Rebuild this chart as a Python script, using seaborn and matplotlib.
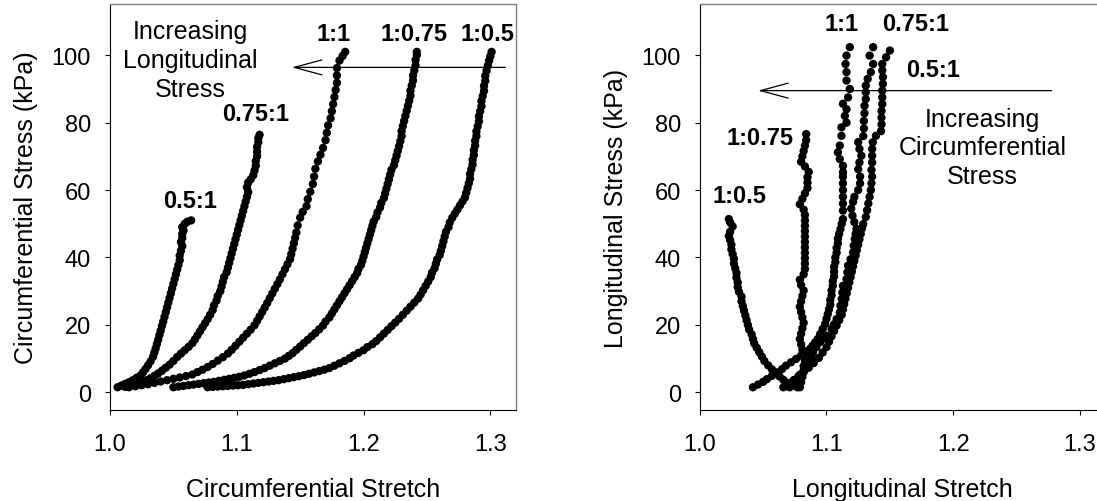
import matplotlib
matplotlib.use("Agg")
import matplotlib.pyplot as plt
import pandas as pd
import seaborn as sns

# ---------------- data: (stretch, stress kPa) ----------------
# Left panel: circumferential stretch vs circumferential stress
circ_0p5_1 = [(1.006,1.5),(1.009,2.0),(1.012,2.5),(1.015,3.0),(1.018,3.6),(1.021,4.3),(1.024,5.0),(1.026,5.9),
              (1.028,6.9),(1.030,8.0),(1.032,9.2),(1.034,10.6),(1.035,11.8),(1.036,13.0),(1.037,14.3),(1.038,15.6),
              (1.039,17.0),(1.040,18.3),(1.041,19.7),(1.042,21.0),(1.043,22.4),(1.044,23.8),(1.045,25.2),(1.046,26.6),
              (1.047,28.0),(1.048,29.4),(1.049,30.8),(1.050,32.2),(1.051,33.6),(1.052,35.0),(1.053,36.4),(1.054,37.8),
              (1.055,39.2),(1.055,40.6),(1.056,42.0),(1.057,43.4),(1.056,44.6),(1.057,45.8),(1.057,47.0),(1.058,48.0),
              (1.057,49.0),(1.059,50.0),(1.061,50.6),(1.064,51.0)]
circ_0p75_1 = [(1.012,1.6),(1.016,1.9),(1.020,2.2),(1.023,2.7),(1.026,3.1),(1.029,3.6),(1.032,4.2),(1.035,4.9),
               (1.038,5.6),(1.041,6.4),(1.044,7.3),(1.047,8.2),(1.050,9.3),(1.053,10.5),(1.056,11.5),(1.059,12.5),
               (1.062,13.5),(1.065,14.6),(1.067,15.7),(1.069,16.9),(1.071,18.1),(1.073,19.3),(1.075,20.5),(1.077,21.7),
               (1.079,23.0),(1.081,24.4),(1.082,25.8),(1.084,27.2),(1.085,28.6),(1.087,30.0),(1.088,31.4),(1.089,32.8),
               (1.090,34.2),(1.092,35.6),(1.093,37.0),(1.094,38.4),(1.095,39.8),(1.096,41.2),(1.097,42.6),(1.098,44.0),
               (1.099,45.4),(1.100,46.8),(1.101,48.2),(1.102,49.6),(1.103,51.0),(1.104,52.4),(1.105,53.8),(1.106,55.2),
               (1.107,56.6),(1.108,58.0),(1.109,59.4),(1.108,60.8),(1.109,62.2),(1.111,63.2),(1.113,64.4),(1.114,65.8),
               (1.115,67.2),(1.115,68.6),(1.116,70.0),(1.116,71.4),(1.116,72.8),(1.117,74.2),(1.117,75.4),(1.118,76.4)]
circ_1_1 = [(1.015,1.5),(1.020,1.8),(1.025,2.1),(1.030,2.4),(1.035,2.8),(1.040,3.2),(1.045,3.6),(1.050,4.0),
            (1.055,4.4),(1.060,4.8),(1.065,5.3),(1.069,6.0),(1.073,6.7),(1.077,7.5),(1.081,8.4),(1.085,9.4),
            (1.089,10.4),(1.093,11.5),(1.096,12.6),(1.099,13.8),(1.102,15.0),(1.105,16.2),(1.108,17.4),(1.111,18.6),
            (1.114,19.9),(1.116,21.2),(1.118,22.5),(1.120,23.8),(1.122,25.1),(1.124,26.5),(1.126,27.9),(1.128,29.3),
            (1.130,30.7),(1.132,32.1),(1.134,33.5),(1.136,35.0),(1.138,36.5),(1.140,38.0),(1.142,39.5),(1.143,41.0),
            (1.144,42.6),(1.145,44.2),(1.146,45.8),(1.147,47.4),(1.148,49.5),(1.150,51.8),(1.152,53.5),(1.155,55.2),
            (1.156,57.3),(1.158,59.5),(1.160,61.8),(1.161,64.0),(1.162,66.3),(1.164,68.5),(1.166,70.5),(1.168,72.5),
            (1.170,74.8),(1.171,77.0),(1.172,79.2),(1.174,81.3),(1.175,83.4),(1.176,85.5),(1.177,87.6),(1.178,89.7),
            (1.179,91.8),(1.179,94.0),(1.179,96.2),(1.181,98.4),(1.1835,99.8),(1.1855,101.0)]
circ_1_0p75 = [(1.050,1.5),(1.054,1.7),(1.058,1.9),(1.062,2.1),(1.066,2.3),(1.070,2.5),(1.074,2.7),(1.078,2.9),
               (1.082,3.1),(1.086,3.4),(1.090,3.7),(1.094,4.0),(1.098,4.3),(1.102,4.6),(1.106,5.0),(1.110,5.5),
               (1.114,6.0),(1.118,6.6),(1.122,7.2),(1.126,7.9),(1.130,8.6),(1.134,9.3),(1.138,10.0),(1.141,10.8),
               (1.144,11.6),(1.147,12.6),(1.150,13.6),(1.153,14.6),(1.156,15.6),(1.159,16.6),(1.162,17.6),(1.165,18.7),
               (1.168,19.8),(1.170,21.0),(1.173,22.2),(1.175,23.4),(1.177,24.6),(1.179,25.8),(1.181,27.0),(1.183,28.2),
               (1.185,29.4),(1.187,30.6),(1.189,31.8),(1.191,33.0),(1.193,34.2),(1.195,35.4),(1.196,36.6),(1.198,37.8),
               (1.199,39.0),(1.200,40.3),(1.201,41.6),(1.202,42.9),(1.203,44.2),(1.204,45.5),(1.205,46.8),(1.206,48.1),
               (1.207,49.4),(1.208,50.7),(1.210,52.0),(1.211,53.4),(1.213,54.8),(1.214,56.2),(1.216,57.6),(1.217,59.0),
               (1.218,60.4),(1.219,61.8),(1.220,63.2),(1.221,64.6),(1.222,66.0),(1.224,67.4),(1.225,68.8),(1.226,70.2),
               (1.227,71.6),(1.228,73.0),(1.229,74.5),(1.230,76.0),(1.230,77.5),(1.231,79.0),(1.232,80.5),(1.233,82.0),
               (1.234,83.5),(1.235,85.0),(1.236,86.5),(1.237,88.0),(1.237,89.5),(1.238,91.0),(1.239,92.5),(1.239,94.0),
               (1.240,95.5),(1.241,97.0),(1.241,98.6),(1.242,100.0),(1.242,101.0)]
circ_1_0p5 = [(1.077,1.5),(1.081,1.6),(1.085,1.7),(1.089,1.8),(1.093,1.9),(1.097,2.0),(1.101,2.1),(1.105,2.2),
              (1.109,2.4),(1.113,2.6),(1.117,2.8),(1.121,3.0),(1.125,3.2),(1.129,3.4),(1.133,3.6),(1.137,3.9),
              (1.141,4.2),(1.145,4.5),(1.149,4.8),(1.153,5.1),(1.157,5.5),(1.161,5.9),(1.165,6.3),(1.169,6.7),
              (1.173,7.2),(1.177,7.9),(1.181,8.6),(1.185,9.3),(1.189,10.1),(1.192,10.9),(1.196,11.7),(1.200,12.5),
              (1.203,13.4),(1.207,14.3),(1.210,15.2),(1.213,16.3),(1.216,17.4),(1.219,18.5),(1.222,19.6),(1.225,20.7),
              (1.228,21.8),(1.231,23.0),(1.234,24.2),(1.237,25.4),(1.240,26.6),(1.243,27.8),(1.245,29.0),(1.247,30.3),
              (1.249,31.6),(1.251,32.9),(1.253,34.2),(1.254,35.5),(1.256,36.8),(1.257,38.1),(1.258,39.4),(1.260,40.7),
              (1.261,42.0),(1.262,43.4),(1.263,44.8),(1.264,46.2),(1.265,47.6),(1.267,49.0),(1.268,50.4),(1.270,51.8),
              (1.272,53.0),(1.274,54.2),(1.276,55.4),(1.278,56.6),(1.280,57.8),(1.281,59.2),(1.282,60.6),(1.283,62.0),
              (1.284,63.4),(1.284,64.8),(1.285,66.2),(1.286,67.6),(1.286,69.0),(1.287,70.4),(1.287,71.8),(1.288,73.2),
              (1.288,74.6),(1.289,76.0),(1.289,77.4),(1.290,78.9),(1.291,80.4),(1.291,81.9),(1.292,83.4),(1.293,84.9),
              (1.293,86.4),(1.294,87.9),(1.295,89.4),(1.295,90.9),(1.296,92.4),(1.296,93.9),(1.297,95.4),(1.298,96.9),
              (1.299,98.4),(1.300,99.7),(1.301,101.0)]

# Right panel: longitudinal stretch vs longitudinal stress
long_1_0p5 = [(1.077,1.5),(1.073,2.0),(1.069,2.8),(1.066,3.7),(1.063,4.7),(1.060,5.7),(1.057,6.8),(1.054,8.0),
              (1.051,9.3),(1.049,10.6),(1.047,11.9),(1.045,13.2),(1.043,14.5),(1.042,15.8),(1.041,17.2),(1.039,18.6),
              (1.038,20.0),(1.037,21.4),(1.036,22.8),(1.035,24.2),(1.034,25.6),(1.033,27.0),(1.033,28.4),(1.031,29.8),
              (1.030,31.2),(1.030,32.6),(1.029,34.0),(1.029,35.4),(1.028,36.8),(1.027,38.2),(1.027,39.6),(1.026,41.0),
              (1.025,42.4),(1.025,43.8),(1.024,45.2),(1.023,46.4),(1.024,47.6),(1.026,49.2),(1.024,50.4),(1.023,51.4)]
long_1_0p75 = [(1.079,1.5),(1.080,3.0),(1.081,4.6),(1.082,6.2),(1.082,7.8),(1.083,9.4),(1.082,11.0),(1.081,12.6),
               (1.080,14.2),(1.079,15.8),(1.080,17.4),(1.081,19.0),(1.082,20.6),(1.081,22.2),(1.080,23.8),(1.079,25.4),
               (1.080,27.0),(1.081,28.6),(1.082,30.2),(1.080,31.8),(1.079,33.4),(1.082,35.0),(1.083,36.6),(1.083,38.2),
               (1.083,39.8),(1.083,41.4),(1.083,43.0),(1.083,44.6),(1.083,46.2),(1.083,47.8),(1.083,49.4),(1.083,51.0),
               (1.083,52.6),(1.082,54.2),(1.079,55.8),(1.081,57.4),(1.083,59.0),(1.085,60.6),(1.085,62.2),(1.085,63.8),
               (1.086,65.4),(1.083,67.0),(1.080,68.4),(1.081,70.0),(1.082,71.6),(1.083,73.2),(1.084,74.8),(1.084,76.6)]
long_1_1 = [(1.042,1.5),(1.046,2.3),(1.050,3.1),(1.053,3.9),(1.057,4.9),(1.061,5.9),(1.065,6.9),(1.068,7.9),
            (1.072,8.9),(1.076,9.9),(1.080,10.9),(1.084,11.9),(1.087,12.9),(1.089,13.8),(1.091,14.8),(1.093,15.8),
            (1.095,17.3),(1.097,18.8),(1.099,20.3),(1.100,21.8),(1.101,23.2),(1.102,24.6),(1.103,26.0),(1.103,27.4),
            (1.104,28.8),(1.104,30.2),(1.105,31.6),(1.105,33.0),(1.106,34.4),(1.106,35.8),(1.106,37.2),(1.107,38.6),
            (1.107,40.0),(1.108,41.4),(1.108,42.8),(1.109,44.2),(1.109,45.6),(1.110,47.0),(1.111,48.4),(1.112,50.0),
            (1.113,51.4),(1.113,53.9),(1.113,56.0),(1.113,58.0),(1.113,60.0),(1.113,62.0),(1.113,64.0),(1.113,65.3),
            (1.113,67.2),(1.1105,69.2),(1.109,71.2),(1.1105,73.2),(1.1118,76.1),(1.1118,78.6),(1.1158,80.0),(1.1145,82.0),
            (1.1158,84.0),(1.113,85.6),(1.117,87.5),(1.1184,90.0),(1.1158,92.5),(1.1158,95.0),(1.115,97.4),(1.1158,99.9),
            (1.1184,102.4)]
long_0p75_1 = [(1.071,1.5),(1.074,2.7),(1.076,3.9),(1.079,5.2),(1.082,6.5),(1.084,7.9),(1.086,9.2),(1.088,10.5),
               (1.0894,11.9),(1.092,13.4),(1.095,14.9),(1.098,16.0),(1.100,16.8),(1.104,18.8),(1.106,20.2),(1.108,21.7),
               (1.1105,23.7),(1.111,25.7),(1.112,27.7),(1.1125,29.6),(1.113,31.6),(1.1158,33.6),(1.1165,35.6),(1.117,37.6),
               (1.119,39.5),(1.121,41.5),(1.1215,43.5),(1.1223,45.5),(1.123,47.0),(1.1237,48.5),(1.122,50.5),(1.1205,52.4),
               (1.1195,54.5),(1.121,56.5),(1.122,58.0),(1.125,60.0),(1.1265,62.0),(1.1265,64.0),(1.125,66.2),(1.126,68.2),
               (1.1275,70.2),(1.126,72.2),(1.125,74.2),(1.129,76.0),(1.1295,78.3),(1.1295,80.5),(1.130,82.8),(1.130,85.0),
               (1.131,87.0),(1.131,89.0),(1.131,91.0),(1.1325,93.0),(1.135,95.0),(1.1368,97.4),(1.134,99.9),(1.1368,102.4)]
long_0p5_1 = [(1.066,1.5),(1.070,2.5),(1.074,3.6),(1.078,4.8),(1.082,6.0),(1.086,7.3),(1.090,8.7),(1.094,10.2),
              (1.097,11.8),(1.100,13.4),(1.102,15.0),(1.104,16.6),(1.106,18.2),(1.108,19.8),(1.110,21.4),(1.112,23.0),
              (1.113,24.6),(1.114,26.2),(1.115,27.8),(1.116,29.4),(1.117,31.0),(1.118,32.6),(1.119,34.2),(1.120,35.8),
              (1.121,37.4),(1.122,39.0),(1.123,40.6),(1.124,42.2),(1.125,43.8),(1.126,45.4),(1.127,47.0),(1.128,48.6),
              (1.129,49.9),(1.131,52.0),(1.132,54.0),(1.133,56.0),(1.134,58.0),(1.135,60.0),(1.1355,62.0),(1.136,64.0),
              (1.1355,66.0),(1.136,68.2),(1.136,70.2),(1.136,72.2),(1.1365,74.2),(1.139,76.1),(1.143,77.5),(1.1434,79.5),
              (1.1434,81.5),(1.1434,83.5),(1.144,85.5),(1.144,87.5),(1.144,89.5),(1.1445,91.5),(1.1445,93.5),(1.144,95.5),
              (1.144,97.4),(1.147,99.4),(1.150,101.4)]

left_labels = ["0.5:1", "0.75:1", "1:1", "1:0.75", "1:0.5"]
left_label_pos = [(1.0629, 56.9), (1.1151, 82.6), (1.1763, 106.5), (1.2398, 106.5), (1.298, 106.5)]
right_labels = ["1:0.5", "1:0.75", "1:1", "0.75:1", "0.5:1"]
right_label_pos = [(1.031, 58.3), (1.0474, 75.7), (1.1118, 109.3), (1.170, 109.3), (1.184, 95.9)]

x_ticks = [1.0, 1.1, 1.2, 1.3]
x_tick_labels = ["1.0", "1.1", "1.2", "1.3"]
y_ticks = [0, 20, 40, 60, 80, 100]

# ---------------- style ----------------
sns.set_style("ticks")
plt.rcParams["font.family"] = ["Liberation Sans", "DejaVu Sans"]
plt.rcParams.update({"text.color": "black", "axes.labelcolor": "black",
                     "xtick.color": "black", "ytick.color": "black"})

fig = plt.figure(figsize=(10.97, 5.02), dpi=100)
ax1 = fig.add_axes([0.10027, 0.18127, 0.36983, 0.80876])
ax2 = fig.add_axes([0.63783, 0.18127, 0.36983, 0.80876])


def to_frame(curves, names):
    parts = []
    for c, n in zip(curves, names):
        d = pd.DataFrame(c, columns=["stretch", "stress"])
        d["protocol"] = n
        parts.append(d)
    return pd.concat(parts, ignore_index=True)


df_left = to_frame([circ_0p5_1, circ_0p75_1, circ_1_1, circ_1_0p75, circ_1_0p5], left_labels)
df_right = to_frame([long_1_0p5, long_1_0p75, long_1_1, long_0p75_1, long_0p5_1], right_labels)

for ax, df in ((ax1, df_left), (ax2, df_right)):
    sns.scatterplot(data=df, x="stretch", y="stress", hue="protocol",
                    palette=["black"] * 5, s=36, linewidth=0, edgecolor="none",
                    legend=False, ax=ax, zorder=3)
    ax.set_xlim(1.0, 1.32)
    ax.set_ylim(-5.25, 115.2)
    ax.set_xticks(x_ticks)
    ax.set_xticklabels(x_tick_labels)
    ax.set_yticks(y_ticks)
    ax.tick_params(axis="both", direction="out", length=3.6, width=0.8,
                   color="black", labelsize=17, labelcolor="black")
    ax.tick_params(axis="x", pad=13)
    ax.tick_params(axis="y", pad=10)
    for side in ("left", "bottom"):
        ax.spines[side].set_color("black")
        ax.spines[side].set_linewidth(0.8)
    for side in ("top", "right"):
        ax.spines[side].set_visible(True)
        ax.spines[side].set_color("#808080")
        ax.spines[side].set_linewidth(1.0)

ax1.set_xlabel("Circumferential Stretch", fontsize=18, labelpad=16)
ax1.set_ylabel("Circumferential Stress (kPa)", fontsize=18, labelpad=10)
ax2.set_xlabel("Longitudinal Stretch", fontsize=18, labelpad=16)
ax2.set_ylabel("Longitudinal Stress (kPa)", fontsize=18, labelpad=10)

for lab, (x, y) in zip(left_labels, left_label_pos):
    ax1.text(x, y, lab, ha="center", va="center", fontsize=17, fontweight="bold")
for lab, (x, y) in zip(right_labels, right_label_pos):
    ax2.text(x, y, lab, ha="center", va="center", fontsize=17, fontweight="bold")

ax1.text(1.0631, 98.6, "Increasing\nLongitudinal\nStress", ha="center", va="center",
         multialignment="center", fontsize=18, linespacing=1.25)
ax2.text(1.223, 72.7, "Increasing\nCircumferential\nStress", ha="center", va="center",
         multialignment="center", fontsize=18, linespacing=1.25)

arrow = dict(arrowstyle="->,head_length=1.0,head_width=0.27", lw=0.9, color="black",
             shrinkA=0, shrinkB=0, mutation_scale=20)
ax1.annotate("", xy=(1.1434, 96.4), xytext=(1.3118, 96.4), arrowprops=arrow)
ax2.annotate("", xy=(1.046, 89.5), xytext=(1.2776, 89.5), arrowprops=arrow)

fig.savefig("out.png", dpi=100)
